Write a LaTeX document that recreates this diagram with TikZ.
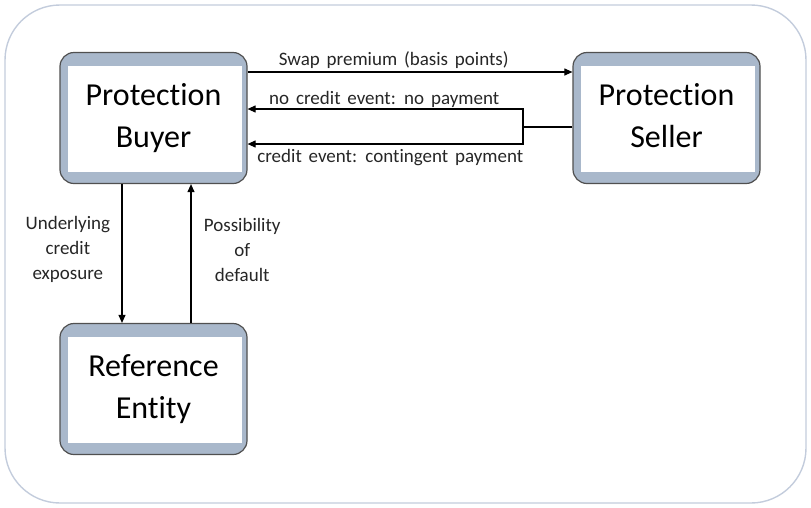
\documentclass[tikz,border=0pt]{standalone}
\usepackage{fontspec}
\setmainfont{Carlito}[Ligatures=NoCommon]
\usetikzlibrary{calc,arrows.meta}
\definecolor{bandcol}{HTML}{A9B8CB}
\definecolor{edgecol}{HTML}{505050}
\definecolor{framecol}{HTML}{C3CCDC}
\definecolor{txtcol}{HTML}{262626}
\newcommand{\lblfont}{\fontsize{19}{25}\selectfont\spaceskip=0.36em\relax}

\begin{document}
\begin{tikzpicture}[x=1pt,y=-1pt,
    party/.style={draw=edgecol,line width=1.2pt,fill=bandcol,rounded corners=14pt,
      minimum width=187pt,minimum height=131pt,align=center,text=black,
      font=\fontsize{32}{42}\selectfont,
      path picture={\fill[white,sharp corners] ($(path picture bounding box.south west)+(8pt,12pt)$)
        rectangle ($(path picture bounding box.north east)+(-5pt,-13pt)$);}},
    arr/.style={line width=1.1pt,-{Triangle[length=8pt,width=7pt]}},
    lbl/.style={text=txtcol,font=\lblfont,align=center}]
      \useasboundingbox (0,0) rectangle (811,507);
      \draw[framecol,line width=1.4pt,rounded corners=55pt] (5,5) rectangle (806,503);
      %
      \node[party] (buyer) at (153.5,118) {Protection\\Buyer};
      \node[party] (seller) at (666.5,118) {Protection\\Seller\vphantom{y}};
      \node[party] (ref) at (153.5,389) {Reference\\Entity};
      %
      \draw[arr] ([yshift=46pt]buyer.east) -- ([yshift=46pt]buyer.east -| seller.west)
        node[lbl,pos=0.45,above=0pt] {Swap premium (basis points)};
      \coordinate (split) at (523,127);
      \draw[line width=1.1pt] (seller.west |- split) -- (split);
      \draw[arr] (split) |- ([yshift=9pt]buyer.east)
        node[lbl,pos=0.752,above=-2pt] {no credit event: no payment};
      \draw[arr] (split) |- ([yshift=-26pt]buyer.east)
        node[lbl,pos=0.741,below=1pt] {credit event: contingent payment};
      %
      \draw[arr] ([xshift=-31.5pt]buyer.south) -- ([xshift=-31.5pt]buyer.south |- ref.north)
        node[lbl,midway,left=8pt,yshift=4pt] {Underlying\\credit\\exposure};
      \draw[arr] ([xshift=37.5pt]buyer.south |- ref.north) -- ([xshift=37.5pt]buyer.south)
        node[lbl,midway,right=9pt,yshift=4pt] {Possibility\\of\\default};
    \end{tikzpicture}
\end{document}
